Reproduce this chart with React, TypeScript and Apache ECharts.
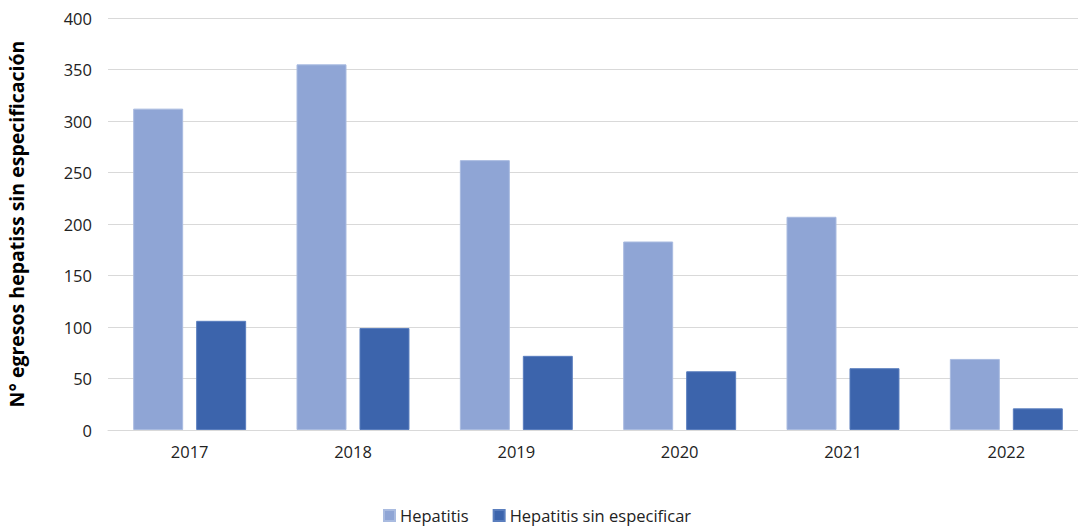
import React, { useEffect, useRef } from "react";
import * as echarts from "echarts";

const categories = ["2017", "2018", "2019", "2020", "2021", "2022"];
const hepatitis = [312, 355, 262, 183, 207, 69];
const hepatitisSinEspecificar = [106, 99, 72, 57, 60, 21];
const seriesNames = ["Hepatitis", "Hepatitis sin especificar"];
const yAxisTitle = "N° egresos hepatiss sin especificación";

const FONT = "'Open Sans', 'Noto Sans', sans-serif";

export default function App() {
  const ref = useRef<HTMLDivElement>(null);
  useEffect(() => {
    const chart = echarts.init(ref.current!, null, { renderer: "svg" });
    chart.setOption({
      animation: false,
      textStyle: { fontFamily: FONT },
      grid: {
        left: 108,
        right: 0,
        top: 18,
        bottom: 99,
        containLabel: false,
        outerBoundsMode: "none",
      },
      legend: {
        bottom: 0,
        left: 378,
        itemWidth: 11,
        itemHeight: 11,
        itemGap: 24,
        icon: "rect",
        textStyle: { fontFamily: FONT, fontSize: 16.5, color: "#222" },
        data: seriesNames,
      },
      xAxis: {
        type: "category",
        data: categories,
        axisLine: { lineStyle: { color: "#d9d9d9", width: 1 } },
        axisTick: { show: false },
        axisLabel: { fontFamily: FONT, fontSize: 16.5, color: "#222", margin: 13 },
      },
      yAxis: {
        type: "value",
        min: 0,
        max: 400,
        interval: 50,
        name: yAxisTitle,
        nameLocation: "middle",
        nameGap: 82,
        nameTextStyle: { fontFamily: FONT, fontSize: 19.5, fontWeight: "bold", color: "#000" },
        axisLine: { show: false },
        axisTick: { show: false },
        axisLabel: { fontFamily: FONT, fontSize: 16.5, color: "#222", margin: 16 },
        splitLine: { lineStyle: { color: "#d9d9d9", width: 1 } },
      },
      series: [
        {
          name: seriesNames[0],
          type: "bar",
          data: hepatitis,
          barWidth: "30.6%",
          barGap: "26%",
          itemStyle: { color: "#8FA5D5", borderColor: "#A9BBE0", borderWidth: 1 },
        },
        {
          name: seriesNames[1],
          type: "bar",
          data: hepatitisSinEspecificar,
          barWidth: "30.6%",
          itemStyle: { color: "#3C64AC", borderColor: "#5A7EBE", borderWidth: 1 },
        },
      ],
    });
    return () => chart.dispose();
  }, []);
  return (
    <div
      style={{
        position: "fixed",
        top: 0,
        left: 0,
        width: 1078,
        height: 529,
        overflow: "hidden",
        background: "#fff",
      }}
    >
      <div ref={ref} style={{ width: 1088, height: 529 }} />
    </div>
  );
}
